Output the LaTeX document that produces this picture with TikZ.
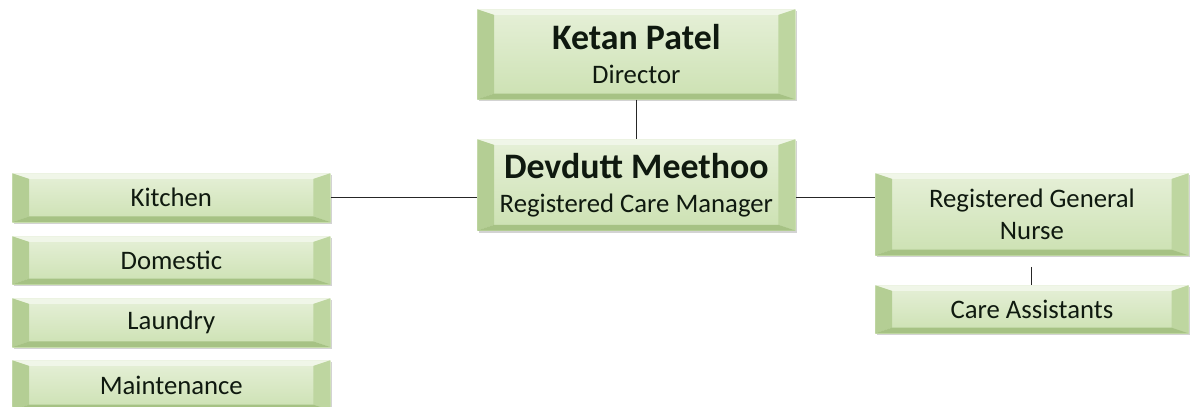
\documentclass[tikz,border=0pt]{standalone}
\usepackage{fontspec}
\setmainfont{Carlito}
\usetikzlibrary{shadows}
\definecolor{boxtop}{RGB}{230,240,216}
\definecolor{boxbot}{RGB}{204,225,178}
\definecolor{boxside}{RGB}{180,206,148}
\definecolor{boxlow}{RGB}{166,194,132}
\definecolor{boxhigh}{RGB}{240,246,232}
\definecolor{boxtext}{RGB}{15,25,15}
\tikzset{
  orgbox/.style={anchor=north west, inner sep=0pt, align=center,
    top color=boxtop, bottom color=boxbot, text=boxtext,
    font=\fontsize{19}{23}\selectfont,
    drop shadow={shadow xshift=1pt, shadow yshift=-1.5pt, opacity=0.35},
    path picture={
      % top edge
      \fill[boxhigh] (path picture bounding box.north west) -- (path picture bounding box.north east)
        -- ([xshift=-12pt,yshift=-4pt]path picture bounding box.north east) -- ([xshift=12pt,yshift=-4pt]path picture bounding box.north west) -- cycle;
      % left edge
      \fill[boxside] (path picture bounding box.north west) -- ([xshift=12pt,yshift=-4pt]path picture bounding box.north west)
        -- ([xshift=12pt,yshift=4pt]path picture bounding box.south west) -- (path picture bounding box.south west) -- cycle;
      % right edge
      \fill[boxside!60!boxbot] (path picture bounding box.north east) -- ([xshift=-12pt,yshift=-4pt]path picture bounding box.north east)
        -- ([xshift=-12pt,yshift=4pt]path picture bounding box.south east) -- (path picture bounding box.south east) -- cycle;
      % bottom edge
      \fill[boxlow] (path picture bounding box.south west) -- (path picture bounding box.south east)
        -- ([xshift=-12pt,yshift=4pt]path picture bounding box.south east) -- ([xshift=12pt,yshift=4pt]path picture bounding box.south west) -- cycle;
    }},
  link/.style={draw=black!85, line width=0.8pt}
}
\newcommand{\personname}[1]{{\fontsize{25.5}{31}\selectfont\bfseries #1}}
\begin{document}
\begin{tikzpicture}[x=0.025cm,y=0.025cm]
  \useasboundingbox (0,0) rectangle (1191,-407);
  \clip (0,0) rectangle (1191,-407);

  % Director and manager
  \node [orgbox, minimum width=7.95cm, minimum height=2.25cm] (director) at (477,-9) {\personname{Ketan Patel}\\[1pt]Director};
  \node [orgbox, minimum width=7.95cm, minimum height=2.28cm] (manager) at (477,-139) {\personname{Devdutt Meethoo}\\[1pt]Registered Care Manager};

  % Left column of departments
  \node [orgbox, minimum width=7.95cm, minimum height=1.22cm] (kitchen) at (12,-173) {Kitchen};
  \node [orgbox, minimum width=7.95cm, minimum height=1.2cm] (domestic) at (12,-236) {Domestic};
  \node [orgbox, minimum width=7.95cm, minimum height=1.22cm] (laundry) at (12,-298) {Laundry};
  \node [orgbox, minimum width=7.95cm, minimum height=1.25cm] (maintenance) at (12,-360) {Maintenance};

  % Nursing column
  \node [orgbox, minimum width=7.83cm, minimum height=2.05cm] (nurse) at (875,-173) {Registered General\\Nurse};
  \node [orgbox, minimum width=7.83cm, minimum height=1.2cm] (carers) at (875,-285) {Care Assistants};

  % Connectors
  \draw [link] (director.south) -- (manager.north);
  \draw [link] (kitchen.east) -- (kitchen.east -| manager.west);
  \draw [link] (kitchen.east -| manager.east) -- (kitchen.east -| nurse.west);
  \draw [link] ([yshift=-8pt]nurse.south) -- (carers.north);
\end{tikzpicture}
\end{document}
